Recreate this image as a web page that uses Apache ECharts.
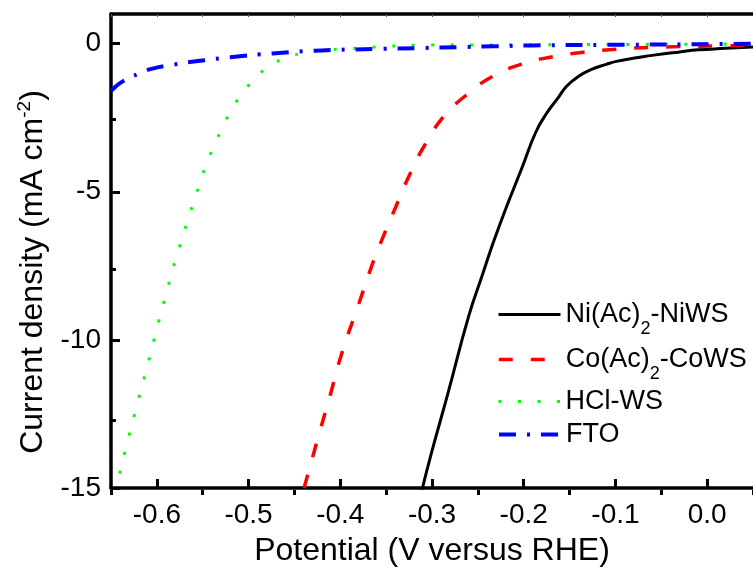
<!DOCTYPE html>
<html>
<head>
<meta charset="utf-8">
<script src="https://cdn.jsdelivr.net/npm/echarts@6/dist/echarts.min.js"></script>
<style>
html, body { margin: 0; padding: 0; background: #fff; }
#chart { width: 753px; height: 572px; }
</style>
</head>
<body>
<div id="chart"></div>
<script>
// [potential (V vs RHE), current density (mA cm-2)]
var niWS = [[-0.312, -15.2], [-0.300, -13.75], [-0.283, -11.85], [-0.26, -9.2], [-0.245, -7.8], [-0.233, -6.7],
  [-0.218, -5.45], [-0.202, -4.2], [-0.187, -3.0], [-0.175, -2.35], [-0.163, -1.85], [-0.153, -1.43], [-0.14, -1.1],
  [-0.126, -0.87], [-0.11, -0.7], [-0.099, -0.6], [-0.075, -0.47], [-0.056, -0.38], [-0.03, -0.28], [-0.01, -0.21],
  [0.02, -0.16], [0.05, -0.11]];
var coWS = [[-0.4395, -15], [-0.4233, -13.2], [-0.41, -11.75], [-0.3988, -10.5], [-0.38, -8.8], [-0.3647, -7.42],
  [-0.353, -6.5], [-0.34, -5.55], [-0.3243, -4.42], [-0.308, -3.43], [-0.2865, -2.43], [-0.2635, -1.76],
  [-0.2365, -1.15], [-0.204, -0.71], [-0.168, -0.44], [-0.135, -0.29], [-0.099, -0.19], [-0.063, -0.13],
  [-0.03, -0.1], [0.009, -0.08], [0.05, -0.05]];
var hclWS = [[-0.646, -15.15], [-0.6422, -14.71], [-0.6321, -13.44], [-0.6213, -12.16], [-0.6105, -10.9],
  [-0.6001, -9.63], [-0.5893, -8.37], [-0.5778, -7.11], [-0.5652, -5.86], [-0.5522, -4.62], [-0.545, -4.0],
  [-0.5367, -3.39], [-0.5277, -2.78], [-0.5176, -2.18], [-0.5057, -1.64], [-0.4914, -1.12], [-0.4762, -0.74],
  [-0.4579, -0.47], [-0.437, -0.3], [-0.4168, -0.22], [-0.395, -0.18], [-0.353, -0.1], [-0.311, -0.05],
  [-0.2, -0.04], [-0.1, -0.03], [0, -0.02], [0.05, -0.01]];
var fto = [[-0.65, -1.6], [-0.645, -1.45], [-0.636, -1.25], [-0.62, -1.02], [-0.607, -0.86], [-0.582, -0.71],
  [-0.553, -0.58], [-0.52, -0.46], [-0.474, -0.33], [-0.42, -0.23], [-0.36, -0.18], [-0.315, -0.15],
  [-0.272, -0.12], [-0.232, -0.09], [-0.19, -0.06], [-0.1, -0.04], [0, -0.02], [0.05, 0]];

var seriesNames = ['Ni(Ac)2-NiWS', 'Co(Ac)2-CoWS', 'HCl-WS', 'FTO'];
var xMajorTicks = [-0.6, -0.5, -0.4, -0.3, -0.2, -0.1, 0.0];
var xMinorTicks = [-0.65, -0.55, -0.45, -0.35, -0.25, -0.15, -0.05, 0.05];
var xTopTicks = [-0.65, -0.6, -0.55, -0.5, -0.45, -0.4, -0.35, -0.3, -0.25, -0.2, -0.15, -0.1, -0.05, 0, 0.05];
var yMajorTicks = [-15, -10, -5, 0];
var yMinorTicks = [-12.5, -7.5, -2.5];

var FONT = 'Liberation Sans, Arial, sans-serif';
var legendText = {
  'Ni(Ac)2-NiWS': '{a|Ni(Ac)}{s|2}{a|-NiWS}',
  'Co(Ac)2-CoWS': '{a|Co(Ac)}{s|2}{a|-CoWS}',
  'HCl-WS': '{a|HCl-WS}',
  'FTO': '{a|FTO}'
};
var legendRich = {
  a: { fontSize: 27, lineHeight: 30, fontFamily: FONT, color: '#000' },
  s: { fontSize: 18, lineHeight: 48, verticalAlign: 'bottom', fontFamily: FONT, color: '#000' }
};

var colors = ['#000000', '#ff0000', '#00ff00', '#0000ff'];
var widths = [3, 3.5, 3, 4];
var dashes = ['solid', [14, 18], [3, 16.5], [17, 11, 3, 11]];
var legendTops = [301, 346, 388, 421];
var datasets = [niWS, coWS, hclWS, fto];

var chart = echarts.init(document.getElementById('chart'));

var option = {
  animation: false,
  backgroundColor: '#fff',
  grid: [
    { left: 111, top: 14, right: -5, bottom: 77 },
    { left: 111, top: 14, right: -5, bottom: 77 }
  ],
  legend: seriesNames.map(function (n, i) {
    return {
      data: [n],
      left: 497,
      top: legendTops[i],
      padding: 0,
      itemWidth: 62,
      itemHeight: 12,
      selectedMode: false,
      formatter: function (name) { return legendText[name]; },
      textStyle: { rich: legendRich },
      itemStyle: { opacity: 0 },
      lineStyle: { width: widths[i] }
    };
  }),
  xAxis: [
    {
      gridIndex: 0, type: 'value', position: 'bottom', min: -0.65, max: 0.05,
      name: 'Potential (V versus RHE)', nameLocation: 'middle', nameGap: 47,
      nameTextStyle: { fontSize: 32, fontFamily: FONT, color: '#000' },
      axisLine: { onZero: false, lineStyle: { color: '#000', width: 3.5 } },
      axisTick: { inside: true, length: 9, customValues: xMajorTicks, lineStyle: { color: '#000', width: 3 } },
      axisLabel: { customValues: xMajorTicks, margin: 13, fontSize: 28, fontFamily: FONT, color: '#000',
        formatter: function (v) { return v.toFixed(1); } },
      splitLine: { show: false }
    },
    {
      gridIndex: 0, type: 'value', position: 'top', min: -0.65, max: 0.05,
      axisLine: { onZero: false, lineStyle: { color: '#000', width: 3.5 } },
      axisTick: { inside: true, length: 3, customValues: xTopTicks, lineStyle: { color: '#555', width: 1 } },
      axisLabel: { show: false },
      splitLine: { show: false }
    },
    {
      gridIndex: 1, type: 'value', position: 'bottom', min: -0.65, max: 0.05,
      axisLine: { show: false, onZero: false },
      axisTick: { inside: true, length: 5, customValues: xMinorTicks, lineStyle: { color: '#000', width: 3 } },
      axisLabel: { show: false },
      splitLine: { show: false }
    }
  ],
  yAxis: [
    {
      gridIndex: 0, type: 'value', position: 'left', min: -15, max: 1,
      name: '{a|Current density (mA cm}{p|-2}{a|)}', nameLocation: 'middle', nameGap: 60,
      nameTextStyle: {
        padding: [0, 42, 0, 0],
        rich: {
          a: { fontSize: 32, lineHeight: 36, fontFamily: FONT, color: '#000' },
          p: { fontSize: 19, lineHeight: 16, verticalAlign: 'top', fontFamily: FONT, color: '#000' }
        }
      },
      axisLine: { onZero: false, lineStyle: { color: '#000', width: 3.5 } },
      axisTick: { inside: true, length: 9, customValues: yMajorTicks, lineStyle: { color: '#000', width: 3 } },
      axisLabel: { customValues: yMajorTicks, margin: 10, fontSize: 28, fontFamily: FONT, color: '#000' },
      splitLine: { show: false }
    },
    {
      gridIndex: 1, type: 'value', position: 'left', min: -15, max: 1,
      axisLine: { show: false, onZero: false },
      axisTick: { inside: true, length: 5, customValues: yMinorTicks, lineStyle: { color: '#000', width: 3 } },
      axisLabel: { show: false },
      splitLine: { show: false }
    }
  ],
  series: seriesNames.map(function (n, i) {
    return {
      name: n,
      type: 'line',
      xAxisIndex: 0,
      yAxisIndex: 0,
      data: datasets[i],
      symbol: 'none',
      smooth: 0.5,
      color: colors[i],
      lineStyle: { color: colors[i], width: widths[i], type: dashes[i] }
    };
  })
};

chart.setOption(option);
</script>
</body>
</html>
